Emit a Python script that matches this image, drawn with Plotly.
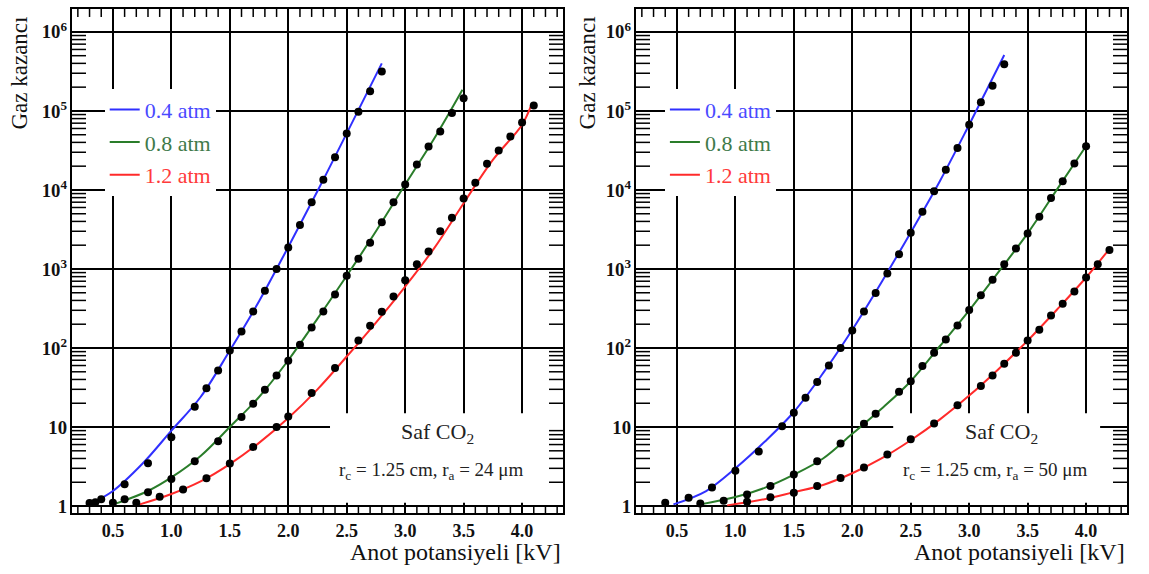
import plotly.graph_objects as go

# ---------------- data ----------------
# Left panel: r_a = 24 um
L_x_04 = [0.3, 0.35, 0.4, 0.6, 0.8, 1.0, 1.2, 1.3, 1.4, 1.5, 1.6, 1.7, 1.8, 1.9, 2.0, 2.1, 2.2, 2.3, 2.4, 2.5, 2.6, 2.7, 2.8]
L_y_04 = [1.09, 1.12, 1.22, 1.89, 3.49, 7.4, 18, 31, 52, 93, 162, 290, 530, 1000, 1870, 3600, 7000, 13500, 26000, 52000, 98000, 177000, 315000]
L_x_08 = [0.5, 0.6, 0.8, 1.0, 1.2, 1.4, 1.6, 1.7, 1.8, 1.9, 2.0, 2.1, 2.2, 2.3, 2.4, 2.5, 2.6, 2.7, 2.8, 2.9, 3.0, 3.1, 3.2, 3.3, 3.4, 3.5]
L_y_08 = [1.1, 1.22, 1.5, 2.2, 3.7, 6.6, 13.4, 19.7, 29.6, 45, 69, 110, 182, 290, 475, 820, 1350, 2150, 3900, 7000, 11700, 21000, 35600, 55000, 94000, 145000]
L_x_12 = [0.7, 0.9, 1.1, 1.3, 1.5, 1.7, 1.9, 2.0, 2.2, 2.4, 2.6, 2.7, 2.8, 2.9, 3.0, 3.1, 3.2, 3.3, 3.4, 3.5, 3.6, 3.7, 3.8, 3.9, 4.0, 4.1]
L_y_12 = [1.1, 1.31, 1.62, 2.24, 3.45, 5.6, 10, 13.6, 27, 56, 124, 191, 288, 448, 720, 1150, 1660, 3000, 4450, 7800, 12300, 21400, 31600, 47500, 71600, 117000]

# Left panel fit curves
LF_x_04 = [0.3, 0.5, 0.75, 1.0, 1.25, 1.5, 1.75, 2.0, 2.25, 2.5, 2.8]
LF_y_04 = [1.05, 1.55, 3.4, 9.0, 24, 93, 390, 1900, 9700, 52000, 400000]
LF_x_08 = [0.53, 0.8, 1.0, 1.25, 1.5, 1.75, 2.0, 2.25, 2.5, 2.75, 3.0, 3.25, 3.49]
LF_y_08 = [1.08, 1.55, 2.3, 4.3, 10, 24, 70, 235, 820, 3000, 11700, 45000, 185000]
LF_x_12 = [0.73, 1.0, 1.25, 1.5, 1.75, 2.0, 2.25, 2.5, 2.75, 3.0, 3.25, 3.5, 3.75, 4.0, 4.08]
LF_y_12 = [1.05, 1.42, 2.05, 3.4, 6.3, 13, 30, 78, 210, 600, 1850, 6800, 24000, 67000, 120000]

# Right panel: r_a = 50 um
R_x_04 = [0.4, 0.6, 0.8, 1.0, 1.2, 1.4, 1.5, 1.6, 1.7, 1.8, 1.9, 2.0, 2.1, 2.2, 2.3, 2.4, 2.5, 2.6, 2.7, 2.8, 2.9, 3.0, 3.1, 3.2, 3.3]
R_y_04 = [1.1, 1.27, 1.72, 2.8, 4.9, 10.2, 15.2, 23.5, 37, 60, 100, 166, 290, 495, 875, 1540, 2880, 5300, 9600, 18000, 34000, 67000, 129000, 208000, 390000]
R_x_08 = [0.7, 0.9, 1.1, 1.3, 1.5, 1.7, 1.9, 2.1, 2.2, 2.4, 2.5, 2.6, 2.7, 2.8, 2.9, 3.0, 3.1, 3.2, 3.3, 3.4, 3.5, 3.6, 3.7, 3.8, 3.9, 4.0]
R_y_08 = [1.08, 1.17, 1.4, 1.79, 2.5, 3.7, 6.2, 11, 14.7, 28, 38, 59, 87, 128, 192, 302, 465, 730, 1150, 1820, 2820, 4570, 7940, 12900, 21600, 35700]
R_x_12 = [1.1, 1.3, 1.5, 1.7, 1.9, 2.1, 2.3, 2.5, 2.7, 2.9, 3.1, 3.2, 3.3, 3.4, 3.5, 3.6, 3.7, 3.8, 3.9, 4.0, 4.1, 4.2]
R_y_12 = [1.13, 1.29, 1.47, 1.79, 2.27, 3.08, 4.5, 7.0, 11.1, 18.8, 33, 45, 63, 87, 124, 170, 257, 364, 519, 780, 1150, 1740]

# Right panel fit curves
RF_x_04 = [0.47, 0.75, 1.0, 1.25, 1.5, 1.75, 2.0, 2.25, 2.5, 2.75, 3.0, 3.3]
RF_y_04 = [1.05, 1.55, 3.0, 6.5, 15.5, 48, 170, 680, 2900, 13000, 67000, 510000]
RF_x_08 = [0.7, 1.0, 1.25, 1.5, 1.75, 2.0, 2.25, 2.5, 2.75, 3.0, 3.25, 3.5, 3.75, 4.0]
RF_y_08 = [1.05, 1.3, 1.7, 2.5, 4.0, 8.2, 17, 38, 106, 300, 915, 2820, 10100, 36000]
RF_x_12 = [0.93, 1.25, 1.5, 1.75, 2.0, 2.25, 2.5, 2.75, 3.0, 3.25, 3.5, 3.75, 4.0, 4.2]
RF_y_12 = [1.02, 1.22, 1.5, 1.85, 2.6, 4.0, 6.8, 12.5, 25, 54, 124, 305, 780, 1800]

# tick positions
x_major_ticks = [0.5, 1.0, 1.5, 2.0, 2.5, 3.0, 3.5, 4.0]
x_minor_ticks = [0.2, 0.3, 0.4, 0.6, 0.7, 0.8, 0.9, 1.1, 1.2, 1.3, 1.4, 1.6, 1.7, 1.8, 1.9,
                 2.1, 2.2, 2.3, 2.4, 2.6, 2.7, 2.8, 2.9, 3.1, 3.2, 3.3, 3.4, 3.6, 3.7, 3.8, 3.9,
                 4.1, 4.2, 4.3]
y_minor_mult = [2, 3, 4, 5, 6, 7, 8, 9]
y_decades = [1, 10, 100, 1000, 10000, 100000, 1000000]
y_minor_ticks = [m * d for d in y_decades for m in y_minor_mult if m * d < 1.9e6]

series_names = ["0.4 atm", "0.8 atm", "1.2 atm"]
line_colors = ["#3030ff", "#2a7d2a", "#ff2a2a"]
text_colors = ["#4a4aff", "#3f7a4a", "#ff3a3a"]
panel_notes = ["r<sub>c</sub> = 1.25 cm, r<sub>a</sub> = 24 \u03bcm",
               "r<sub>c</sub> = 1.25 cm, r<sub>a</sub> = 50 \u03bcm"]

SERIF = "Liberation Serif, Times New Roman, serif"
XR = [0.15, 4.35]
YR = [-0.088, 6.29]
XDOM = [[0, 0.4654], [0.5346, 1]]

fig = go.Figure()

panels = [
    dict(xa="x", ya="y", legend="legend",
         pts=[(L_x_04, L_y_04), (L_x_08, L_y_08), (L_x_12, L_y_12)],
         fits=[(LF_x_04, LF_y_04), (LF_x_08, LF_y_08), (LF_x_12, LF_y_12)]),
    dict(xa="x2", ya="y2", legend="legend2",
         pts=[(R_x_04, R_y_04), (R_x_08, R_y_08), (R_x_12, R_y_12)],
         fits=[(RF_x_04, RF_y_04), (RF_x_08, RF_y_08), (RF_x_12, RF_y_12)]),
]

for p in panels:
    # small inside y-axis tick marks on both sides: half of a horizontal-line
    # marker sitting on the frame, the outer half clipped away by the axes
    fig.add_trace(go.Scatter(
        x=[XR[0]] * len(y_minor_ticks) + [XR[1]] * len(y_minor_ticks),
        y=y_minor_ticks + y_minor_ticks,
        mode="markers", xaxis=p["xa"], yaxis=p["ya"], cliponaxis=True,
        marker=dict(symbol="line-ew", size=20, color="black",
                    line=dict(width=1.5, color="black")),
        hoverinfo="skip", showlegend=False))
    for i, (fx, fy) in enumerate(p["fits"]):
        fig.add_trace(go.Scatter(
            x=fx, y=fy, mode="lines", xaxis=p["xa"], yaxis=p["ya"],
            line=dict(color=line_colors[i], width=2, shape="spline", smoothing=1.0),
            name=f"<span style='color:{text_colors[i]}'>{series_names[i]}</span>",
            legend=p["legend"], legendgroup=p["legend"] + str(i), showlegend=True))
    for i, (px_, py_) in enumerate(p["pts"]):
        fig.add_trace(go.Scatter(
            x=px_, y=py_, mode="markers", xaxis=p["xa"], yaxis=p["ya"],
            marker=dict(color="black", size=8), showlegend=False))

xmain = dict(range=XR, tickmode="array", tickvals=x_major_ticks, tickformat=".1f",
             showgrid=True, gridcolor="black", gridwidth=2,
             showline=True, linecolor="black", linewidth=2, mirror=True,
             ticks="", zeroline=False,
             tickfont=dict(family=SERIF, size=18, color="#111", weight="bold"))
ymain = dict(type="log", range=YR, dtick=1, exponentformat="power",
             showgrid=True, gridcolor="black", gridwidth=2,
             showline=True, linecolor="black", linewidth=2, mirror=True,
             ticks="", zeroline=False,
             tickfont=dict(family=SERIF, size=15, color="#111", weight="bold"))

fig.update_layout(
    width=1149, height=574,
    margin=dict(l=72, r=22, t=7, b=61),
    paper_bgcolor="white", plot_bgcolor="white",
    xaxis=dict(domain=XDOM[0], anchor="y", **xmain),
    yaxis=dict(domain=[0, 1], anchor="x", **ymain),
    xaxis2=dict(domain=XDOM[1], anchor="y2", **xmain),
    yaxis2=dict(domain=[0, 1], anchor="x2", **ymain),
    legend=dict(x=0.031, y=0.842, xanchor="left", yanchor="top",
                bgcolor="white", borderwidth=0, tracegroupgap=1,
                font=dict(family=SERIF, size=22)),
    legend2=dict(x=0.562, y=0.842, xanchor="left", yanchor="top",
                 bgcolor="white", borderwidth=0, tracegroupgap=1,
                 font=dict(family=SERIF, size=22)),
    showlegend=True,
)

# white boxes behind the notes (between gridlines and traces)
for xr, yr, x0, x1 in [("x", "y", 2.357, 4.35), ("x2", "y2", 2.35, 4.12)]:
    fig.add_shape(type="rect", xref=xr, yref=yr, x0=x0, x1=x1, y0=1.1, y1=14.9,
                  fillcolor="white", line=dict(width=0), layer="between")

# small inside x-axis tick marks at top and bottom, placed through the axis scale
XT = 8 / 506   # x-tick length as fraction of plot height
tick_line = dict(color="black", width=1.5)
for xa, ya in [("x", "y"), ("x2", "y2")]:
    for v in x_minor_ticks:
        fig.add_shape(type="line", xref=xa, yref=ya + " domain", x0=v, x1=v, y0=0, y1=XT,
                      line=tick_line, layer="above")
        fig.add_shape(type="line", xref=xa, yref=ya + " domain", x0=v, x1=v, y0=1 - XT, y1=1,
                      line=tick_line, layer="above")

annos = []
for k, (xr, yr) in enumerate([("x domain", "y domain"), ("x2 domain", "y2 domain")]):
    cx = 0.745
    annos.append(dict(xref=xr, yref=yr, x=cx, y=0.158, text="Saf CO<sub>2</sub>",
                      showarrow=False, xanchor="center", yanchor="middle",
                      font=dict(family=SERIF, size=22, color="#222")))
    annos.append(dict(xref=xr, yref=yr, x=cx - 0.012, y=0.083, text=panel_notes[k],
                      showarrow=False, xanchor="center", yanchor="middle",
                      font=dict(family=SERIF, size=19, color="#222")))
    annos.append(dict(xref=xr, yref="paper", x=1.0, y=-0.077, text="Anot potansiyeli [kV]",
                      showarrow=False, xanchor="right", yanchor="middle",
                      font=dict(family=SERIF, size=24, color="#111")))
annos.append(dict(xref="paper", yref="paper", x=-0.0493, y=0.99, text="Gaz kazancı",
                  textangle=-90, showarrow=False, xanchor="center", yanchor="top",
                  font=dict(family=SERIF, size=23, color="#111")))
annos.append(dict(xref="paper", yref="paper", x=0.489, y=0.99, text="Gaz kazancı",
                  textangle=-90, showarrow=False, xanchor="center", yanchor="top",
                  font=dict(family=SERIF, size=23, color="#111")))
fig.update_layout(annotations=annos)

fig.write_html("out.html")
